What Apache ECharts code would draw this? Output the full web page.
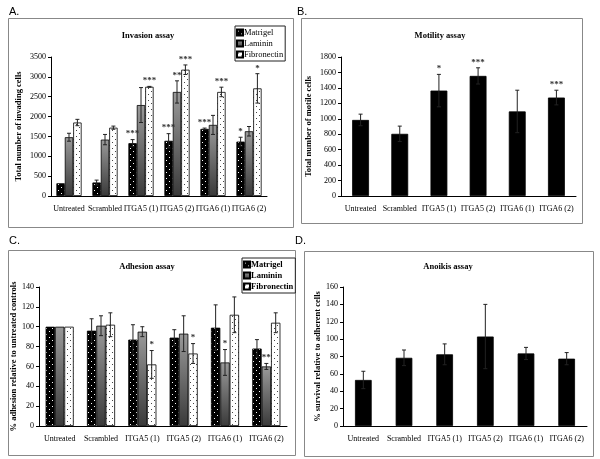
<!DOCTYPE html>
<html><head><meta charset="utf-8">
<script src="https://cdn.jsdelivr.net/npm/echarts@6/dist/echarts.min.js"></script>
<style>html,body{margin:0;padding:0;background:#fff}#c{width:600px;height:459px}</style>
</head><body><div id="c"></div>
<script>
// ---------- data ----------
const categories = ['Untreated','Scrambled','ITGA5 (1)','ITGA5 (2)','ITGA6 (1)','ITGA6 (2)'];
const seriesNames = ['Matrigel','Laminin','Fibronectin'];

// A. Invasion assay
const invMatrigel       = [320, 340, 1330, 1390, 1690, 1370];
const invMatrigelErr    = [0, 60, 90, 180, 20, 110];
const invMatrigelStars  = ['', '', '***', '***', '***', '*'];
const invLaminin        = [1480, 1420, 2290, 2620, 1790, 1630];
const invLamininErr     = [100, 130, 440, 280, 240, 120];
const invLamininStars   = ['', '', '', '**', '', ''];
const invFibronectin    = [1850, 1720, 2750, 3180, 2620, 2710];
const invFibronectinErr = [80, 40, 10, 120, 120, 370];
const invFibronectinStars = ['', '', '***', '***', '***', '*'];

// B. Motility assay
const motility      = [985, 805, 1365, 1555, 1095, 1275];
const motilityErr   = [75, 100, 210, 105, 275, 95];
const motilityStars = ['', '', '*', '***', '', '***'];

// C. Adhesion assay
const adhMatrigel        = [100, 96, 87, 89, 99, 78];
const adhMatrigelErr     = [0, 12, 15, 8, 23, 9];
const adhMatrigelStars   = ['', '', '', '', '', ''];
const adhLaminin         = [100, 101, 95, 93, 64, 60];
const adhLamininErr      = [0, 10, 5, 18, 13, 3];
const adhLamininStars    = ['', '', '', '', '*', '**'];
const adhFibronectin     = [100, 102, 62, 73, 112, 104];
const adhFibronectinErr  = [0, 12, 14, 10, 18, 10];
const adhFibronectinStars= ['', '', '*', '*', '', ''];

// D. Anoikis assay
const anoikis    = [53, 78.5, 82.5, 103, 83.5, 77.5];
const anoikisErr = [10, 9, 12, 37, 7, 7];

// axis ticks
const invTicks = {min:0, max:3500, interval:500};
const motTicks = {min:0, max:1800, interval:200};
const adhTicks = {min:0, max:140, interval:20};
const anoTicks = {min:0, max:160, interval:20};

// ---------- styles ----------
const SERIF = '"Liberation Serif","DejaVu Serif",serif';
function pattern(bg, dot){
  const c = document.createElement('canvas'); c.width = 6; c.height = 6;
  const g = c.getContext('2d');
  g.fillStyle = bg; g.fillRect(0,0,6,6);
  g.fillStyle = dot; g.fillRect(1,1,1,1); g.fillRect(4,4,1,1);
  return {image: c, repeat: 'repeat'};
}
const matrigelFill = pattern('#000', '#fff');
const fibroFill = pattern('#fff', '#444');
const lamininFill = {type:'linear', x:0, y:0, x2:0, y2:1, colorStops:[{offset:0,color:'#9a9a9a'},{offset:1,color:'#3a3a3a'}]};
const fills = [matrigelFill, lamininFill, fibroFill];

const grids = [
  {left:51, top:57, width:216, height:139},
  {left:341, top:57, width:235, height:139},
  {left:39, top:287, width:248, height:139},
  {left:343, top:287, width:244, height:139}
];
const gaps = [0.30, 0.57, 0.32, 0.59];

function xAx(i){
  return {type:'category', gridIndex:i, data:categories,
    axisLine:{lineStyle:{color:'#000', width:1}},
    axisTick:{length:3, lineStyle:{color:'#000'}},
    axisLabel:{color:'#000', fontFamily:SERIF, fontSize:8, margin:9, interval:0}};
}
function yAx(i, t, name, gap){
  return {type:'value', gridIndex:i, min:t.min, max:t.max, interval:t.interval,
    splitLine:{show:false},
    axisLine:{show:true, lineStyle:{color:'#000', width:1}},
    axisTick:{show:true, length:3, lineStyle:{color:'#000'}},
    axisLabel:{color:'#000', fontFamily:SERIF, fontSize:8, margin:5, formatter:(v)=>String(v)},
    name:name, nameLocation:'middle', nameGap:gap,
    nameTextStyle:{color:'#000', fontFamily:SERIF, fontSize:8.5, fontWeight:'bold'}};
}

function errSeries(axisIdx, vals, errs, stars, k, n, gap){
  const data = vals.map((v,i)=>[i, v, errs[i]]);
  return {type:'custom', xAxisIndex:axisIdx, yAxisIndex:axisIdx, z:5, silent:true,
    data:data,
    renderItem:function(params, api){
      const i = api.value(0), v = api.value(1), e = api.value(2);
      const catW = api.size([1,0])[0];
      const barW = catW*(1-gap)/n;
      const cx = api.coord([i, v])[0] + (k-(n-1)/2)*barW;
      const yTop = api.coord([i, v+e])[1];
      const yBot = api.coord([i, v-e])[1];
      const ch = [];
      const ls = {stroke:'#222', lineWidth:1};
      if (e > 0){
        ch.push({type:'line', shape:{x1:cx, y1:yTop, x2:cx, y2:yBot}, style:ls});
        ch.push({type:'line', shape:{x1:cx-2, y1:yTop, x2:cx+2, y2:yTop}, style:ls});
        ch.push({type:'line', shape:{x1:cx-2, y1:yBot, x2:cx+2, y2:yBot}, style:ls});
      }
      const s = stars[params.dataIndex];
      if (s){
        ch.push({type:'text', x:cx, y:yTop-1, style:{text:s, fill:'#333', font:'bold 9px '+SERIF, textAlign:'center', textVerticalAlign:'bottom'}});
      }
      return {type:'group', children:ch};
    }};
}

function barSeries(axisIdx, name, vals, fill, gap){
  return {type:'bar', name:name, xAxisIndex:axisIdx, yAxisIndex:axisIdx, data:vals,
    barGap:'0%', barCategoryGap:(gap*100)+'%',
    itemStyle:{color:fill, borderColor:'#000', borderWidth:0.8}, animation:false};
}

const series = [
  barSeries(0, seriesNames[0], invMatrigel, fills[0], gaps[0]),
  barSeries(0, seriesNames[1], invLaminin, fills[1], gaps[0]),
  barSeries(0, seriesNames[2], invFibronectin, fills[2], gaps[0]),
  errSeries(0, invMatrigel, invMatrigelErr, invMatrigelStars, 0, 3, gaps[0]),
  errSeries(0, invLaminin, invLamininErr, invLamininStars, 1, 3, gaps[0]),
  errSeries(0, invFibronectin, invFibronectinErr, invFibronectinStars, 2, 3, gaps[0]),
  barSeries(1, 'Motility', motility, '#000', gaps[1]),
  errSeries(1, motility, motilityErr, motilityStars, 0, 1, gaps[1]),
  barSeries(2, seriesNames[0], adhMatrigel, fills[0], gaps[2]),
  barSeries(2, seriesNames[1], adhLaminin, fills[1], gaps[2]),
  barSeries(2, seriesNames[2], adhFibronectin, fills[2], gaps[2]),
  errSeries(2, adhMatrigel, adhMatrigelErr, adhMatrigelStars, 0, 3, gaps[2]),
  errSeries(2, adhLaminin, adhLamininErr, adhLamininStars, 1, 3, gaps[2]),
  errSeries(2, adhFibronectin, adhFibronectinErr, adhFibronectinStars, 2, 3, gaps[2]),
  barSeries(3, 'Anoikis', anoikis, '#000', gaps[3]),
  errSeries(3, anoikis, anoikisErr, anoikis.map(()=>''), 0, 1, gaps[3])
];

function ttl(text, x, y){
  return {text:text, left:x, top:y, textAlign:'center', padding:0,
    textStyle:{fontFamily:SERIF, fontSize:8.5, fontWeight:'bold', color:'#000'}};
}
function panelLbl(text, x, y){
  return {text:text, left:x, top:y, padding:0,
    textStyle:{fontFamily:'"Liberation Sans",Arial,sans-serif', fontSize:11, fontWeight:'normal', color:'#000'}};
}
function lg(x, y, bold){
  return {data:seriesNames.map(n=>({name:n, icon:'rect'})), left:x, top:y, orient:'vertical', itemWidth:6, itemHeight:6, itemGap:2,
    padding:[2,2,2,1], borderColor:'#222', borderWidth:1, backgroundColor:'#fff', selectedMode:false,
    textStyle:{fontFamily:SERIF, fontSize:bold?8.5:8.5, fontWeight:bold?'bold':'normal', color:'#000', padding:[0,0,0,-4]}};
}

const chart = echarts.init(document.getElementById('c'), null, {renderer:'canvas'});
chart.setOption({
  backgroundColor:'#fff',
  animation:false,
  title:[
    ttl('Invasion assay', 148, 31), ttl('Motility assay', 440, 31),
    ttl('Adhesion assay', 147, 262), ttl('Anoikis assay', 448, 262),
    panelLbl('A.', 9, 6), panelLbl('B.', 297, 6), panelLbl('C.', 9, 235), panelLbl('D.', 295, 235)
  ],
  legend:[lg(235, 26, false), lg(242, 258, true)],
  grid:grids,
  xAxis:[xAx(0), xAx(1), xAx(2), xAx(3)],
  yAxis:[
    yAx(0, invTicks, 'Total number of invading cells', 28),
    yAx(1, motTicks, 'Total number of motile cells', 28),
    yAx(2, adhTicks, '% adhesion relative to untreated controls', 20),
    yAx(3, anoTicks, '% survival relative to adherent cells', 20)
  ],
  graphic:[
    {type:'rect', shape:{x:8.5, y:18.5, width:285, height:209}, style:{fill:'none', stroke:'#888', lineWidth:1}, silent:true},
    {type:'rect', shape:{x:301.5, y:18.5, width:281, height:205}, style:{fill:'none', stroke:'#888', lineWidth:1}, silent:true},
    {type:'rect', shape:{x:8.5, y:250.5, width:287, height:205}, style:{fill:'none', stroke:'#888', lineWidth:1}, silent:true},
    {type:'rect', shape:{x:304.5, y:251.5, width:289, height:205}, style:{fill:'none', stroke:'#888', lineWidth:1}, silent:true}
  ],
  series:series
});
</script></body></html>
